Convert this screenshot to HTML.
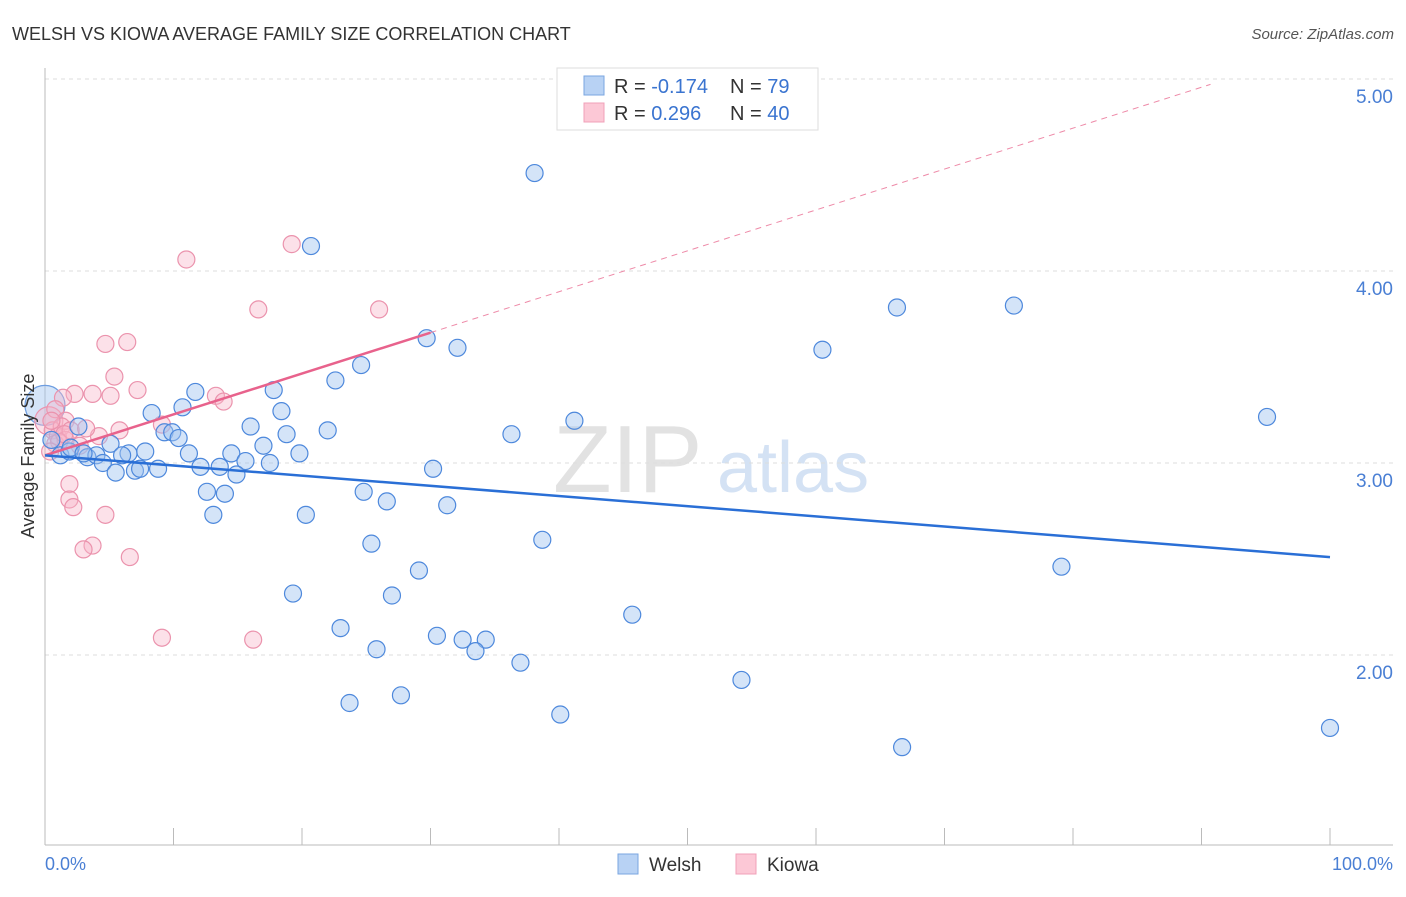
<!DOCTYPE html>
<html><head><meta charset="utf-8"><style>
body{margin:0;background:#fff;font-family:"Liberation Sans",sans-serif}
svg text{font-family:"Liberation Sans",sans-serif}
</style></head><body>
<svg id="c" width="1406" height="892" xmlns="http://www.w3.org/2000/svg">
<text x="12" y="40" font-size="18" fill="#333">WELSH VS KIOWA AVERAGE FAMILY SIZE CORRELATION CHART</text>
<text x="1394" y="39" font-size="15" fill="#555" text-anchor="end" font-style="italic">Source: ZipAtlas.com</text>
<g>
<text x="553" y="492" font-size="96" fill="#e2e2e2" font-family="Liberation Serif">ZIP</text>
<text x="717" y="492" font-size="72" fill="#d4e2f4">atlas</text>
</g>
<g id="grid"></g>
<g id="axes"></g>
<g id="pts"></g>
<g id="lines"></g>
<text transform="translate(34,456) rotate(-90)" font-size="18" fill="#333" text-anchor="middle">Average Family Size</text>
<text x="45" y="870" font-size="18" fill="#4a7fd4">0.0%</text>
<text x="1393" y="870" font-size="18" fill="#4a7fd4" text-anchor="end">100.0%</text>
<g>
<rect x="557" y="68" width="261" height="62" fill="#fff" stroke="#ddd"/>
<rect x="584" y="76" width="20" height="19" fill="#b8d2f4" stroke="#7aa6e0"/>
<rect x="584" y="103" width="20" height="19" fill="#fcc8d6" stroke="#f0a0b8"/>
<text x="614" y="93" font-size="20" fill="#333">R = <tspan fill="#3a74d0">-0.174</tspan></text>
<text x="730" y="93" font-size="20" fill="#333">N = <tspan fill="#3a74d0"> 79</tspan></text>
<text x="614" y="120" font-size="20" fill="#333">R = <tspan fill="#3a74d0"> 0.296</tspan></text>
<text x="730" y="120" font-size="20" fill="#333">N = <tspan fill="#3a74d0">40</tspan></text>
</g>
<g>
<rect x="618" y="854" width="20" height="20" fill="#b8d2f4" stroke="#7aa6e0"/>
<text x="649" y="871" font-size="19" fill="#333">Welsh</text>
<rect x="736" y="854" width="20" height="20" fill="#fcc8d6" stroke="#f0a0b8"/>
<text x="767" y="871" font-size="19" fill="#333">Kiowa</text>
</g>
</svg>
<script>
const yTicks=[2,3,4,5];
const yTickLabels=["2.00","3.00","4.00","5.00"];
const xTicks=[0,10,20,30,40,50,60,70,80,90,100];
const welshX=[47.5,38.1,20.7,66.3,75.4,60.5,29.7,32.1,24.6,22.6,17.8,11.7,10.7,8.3,18.4,16.0,2.6,9.3,9.9,10.4,18.8,22.0,41.2,36.3,95.1,5.1,17.0,7.8,6.5,11.2,14.5,19.8,1.2,1.9,3.3,4.0,6.0,4.5,12.1,13.6,15.6,17.5,5.5,7.0,7.4,8.8,14.9,30.2,12.6,14.0,24.8,26.6,31.3,20.3,13.1,38.7,25.4,79.1,29.1,19.3,27.0,45.7,23.0,30.5,32.5,34.3,25.8,33.5,37.0,54.2,27.7,23.7,40.1,100,66.7,0.5,2.0,3.0];
const welshY=[5.0,4.51,4.13,3.81,3.82,3.59,3.65,3.60,3.51,3.43,3.38,3.37,3.29,3.26,3.27,3.19,3.19,3.16,3.16,3.13,3.15,3.17,3.22,3.15,3.24,3.10,3.09,3.06,3.05,3.05,3.05,3.05,3.04,3.06,3.03,3.04,3.04,3.00,2.98,2.98,3.01,3.00,2.95,2.96,2.97,2.97,2.94,2.97,2.85,2.84,2.85,2.80,2.78,2.73,2.73,2.60,2.58,2.46,2.44,2.32,2.31,2.21,2.14,2.10,2.08,2.08,2.03,2.02,1.96,1.87,1.79,1.75,1.69,1.62,1.52,3.12,3.08,3.05];
const kiowaX=[19.2,11.0,16.6,26.0,4.7,6.4,5.4,7.2,3.7,2.3,5.1,1.4,13.3,13.9,0.8,9.1,5.8,1.6,0.6,1.0,1.3,0.8,1.6,4.2,2.7,1.9,1.9,2.2,4.7,3.7,3.0,6.6,9.1,16.2,0.5,2.0,1.1,0.4,3.2,1.5];
const kiowaY=[4.14,4.06,3.80,3.80,3.62,3.63,3.45,3.38,3.36,3.36,3.35,3.34,3.35,3.32,3.28,3.20,3.17,3.22,3.17,3.14,3.19,3.10,3.12,3.14,3.09,2.89,2.81,2.77,2.73,2.57,2.55,2.51,2.09,2.08,3.22,3.17,3.11,3.06,3.18,3.15];
const welshTrend=[3.04,2.51];
const kiowaTrend=[3.04,5.17];
const X0=45,X1=1330,Y5=79,PXU=192;
const sx=v=>X0+(X1-X0)*v/100;
const sy=v=>Y5+(5-v)*PXU;
const NS="http://www.w3.org/2000/svg";
function mk(p,t,a){const e=document.createElementNS(NS,t);for(const k in a)e.setAttribute(k,a[k]);p.appendChild(e);return e;}
const grid=document.getElementById('grid'),axes=document.getElementById('axes'),pts=document.getElementById('pts'),lines=document.getElementById('lines');
yTicks.forEach((t,i)=>{
 const g=mk(grid,'line',{x1:45,x2:1393,y1:sy(t),y2:sy(t),stroke:'#ddd','stroke-dasharray':'4,4'});
 
 
 const l=mk(axes,'text',{x:1393,y:sy(t)+24,'font-size':19,fill:'#4a7fd4','text-anchor':'end'});
 l.textContent=yTickLabels[i];
 
 
});
const ax=mk(axes,'line',{x1:45,x2:1393,y1:845,y2:845,stroke:'#bbb'});


const ay=mk(axes,'line',{x1:45,x2:45,y1:68,y2:845,stroke:'#bbb'});


xTicks.forEach(t=>{
 const k=mk(axes,'line',{x1:sx(t),x2:sx(t),y1:828,y2:845,stroke:'#bbb'});
 
 
});
// large overlapping points near origin
const bw=mk(pts,'circle',{cx:sx(0),cy:sy(3.30),r:20,fill:'rgba(160,196,240,0.45)',stroke:'#6d9de0','stroke-width':1.2});


const bk=mk(pts,'circle',{cx:sx(0.3),cy:sy(3.22),r:14,fill:'rgba(248,180,200,0.4)',stroke:'#eb93ad','stroke-width':1.2});


kiowaX.forEach((x,i)=>{
 const c=mk(pts,'circle',{cx:sx(x),cy:sy(kiowaY[i]),r:8.5,fill:'rgba(248,180,200,0.4)',stroke:'#eb93ad','stroke-width':1.2});
 
 
});
welshX.forEach((x,i)=>{
 const c=mk(pts,'circle',{cx:sx(x),cy:sy(welshY[i]),r:8.5,fill:'rgba(160,196,240,0.45)',stroke:'#4d88dc','stroke-width':1.2});
 
 
});
const kv=x=>kiowaTrend[0]+(kiowaTrend[1]-kiowaTrend[0])*x/100;
const kd=mk(lines,'line',{x1:sx(30),y1:sy(kv(30)),x2:sx(90.7),y2:sy(kv(90.7)),stroke:'#ee8aa8','stroke-width':1,'stroke-dasharray':'6,5'});


const ks=mk(lines,'line',{x1:sx(0),y1:sy(kv(0)),x2:sx(30),y2:sy(kv(30)),stroke:'#e8628c','stroke-width':2.5});


const ws=mk(lines,'line',{x1:sx(0),y1:sy(welshTrend[0]),x2:sx(100),y2:sy(welshTrend[1]),stroke:'#2a6fd6','stroke-width':2.5});


</script>
</body></html>
